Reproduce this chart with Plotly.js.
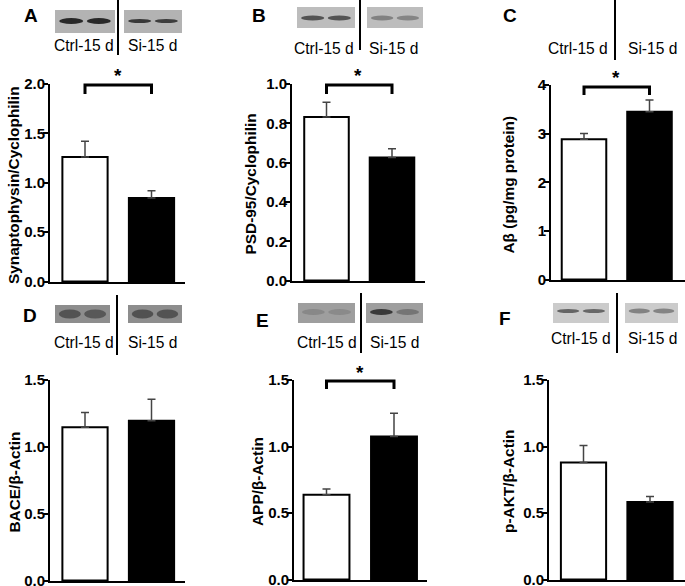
<!DOCTYPE html>
<html><head><meta charset="utf-8">
<script src="https://cdn.plot.ly/plotly-3.0.1.min.js"></script>
<style>html,body{margin:0;padding:0;background:#fff}#chart{width:685px;height:586px}</style>
</head><body><div id="chart"></div>
<script>
// ---- data ----
const groups = ['Ctrl-15 d', 'Si-15 d'];
const synaptophysin = [1.26, 0.845];
const synaptophysinSEM = [0.16, 0.074];
const psd95 = [0.832, 0.626];
const psd95SEM = [0.075, 0.045];
const abeta = [2.885, 3.45];
const abetaSEM = [0.12, 0.24];
const bace = [1.147, 1.196];
const baceSEM = [0.11, 0.16];
const app = [0.637, 1.075];
const appSEM = [0.043, 0.175];
const pakt = [0.88, 0.583];
const paktSEM = [0.127, 0.042];
const yTitles = ['Synaptophysin/Cyclophilin', 'PSD-95/Cyclophilin', 'Aβ (pg/mg protein)', 'BACE/β-Actin', 'APP/β-Actin', 'p-AKT/β-Actin'];
const panelLetters = ['A', 'B', 'C', 'D', 'E', 'F'];
const yMax = [2.0, 1.0, 4, 1.5, 1.5, 1.5];
const yStep = [0.5, 0.2, 1, 0.5, 0.5, 0.5];
const significant = [true, true, true, false, true, false];

const series = [
  [synaptophysin, synaptophysinSEM], [psd95, psd95SEM], [abeta, abetaSEM],
  [bace, baceSEM], [app, appSEM], [pakt, paktSEM]
];

// ---- layout geometry (pixels) ----
const W = 685, H = 586;
const px = x => x / W, py = y => 1 - y / H;
const geom = [
  {L:50,  R:185, T:84,  B:282, cw:85,    cb:151.5, tx:14,  lx:31,  ly:15,  div:[118,0,55],   lab:[[84,45],[152,45]],   star:[118,72],  br:[85,94]},
  {L:292, R:425, T:84,  B:281, cw:326.5, cb:392,   tx:250, lx:259, ly:15,  div:[360,0,50],   lab:[[324,48],[393,48]],  star:[358,72],  br:[85,94]},
  {L:551, R:685, T:85,  B:280, cw:584,   cb:649.5, tx:508, lx:510, ly:15,  div:[615,0,60],   lab:[[578,48],[652,48]],  star:[616,73],  br:[87,95]},
  {L:50,  R:185, T:380, B:581, cw:85,    cb:151.5, tx:14,  lx:30,  ly:315, div:[117,295,355],lab:[[84,342],[152,342]], star:null,      br:null},
  {L:294, R:427, T:380, B:580, cw:326.5, cb:394,   tx:257, lx:262, ly:320, div:[361,293,353],lab:[[327,342],[394,342]],star:[360,368], br:[381,389]},
  {L:549, R:685, T:380, B:580, cw:583.5, cb:650,   tx:508, lx:505, ly:318, div:[617,293,353],lab:[[581,339],[652,339]],star:null,      br:null}
];
// western blot decorations
const blots = [
  {rects:[[55,115],[124,182]], y:[10,33], bg:'#b3b3b3', bands:[['#181818',6],['#181818',6],['#2a2a2a',4],['#303030',4]], by:21},
  {rects:[[297,355],[367,423]], y:[7,28], bg:'#bdbdbd', bands:[['#474747',5],['#474747',5],['#7a7a7a',5],['#7e7e7e',5]], by:18},
  null,
  {rects:[[55,110],[128,182]], y:[305,323], bg:'#8d8d8d', bands:[['#4c4c4c',9],['#525252',9],['#4a4a4a',9],['#4c4c4c',9]], by:314},
  {rects:[[298,355],[366,423]], y:[303,323], bg:'#9e9e9e', bands:[['#858585',6],['#878787',6],['#2e2e2e',6],['#707070',6]], by:312},
  {rects:[[553,609],[625,678]], y:[303,323], bg:'#cbcbcb', bands:[['#5a5a5a',4],['#5c5c5c',4],['#7a7a7a',5],['#7c7c7c',5]], by:311}
];

const font = 'Liberation Sans, Arial, sans-serif';
const traces = [];
const layout = {
  width: W, height: H, margin:{l:0,r:0,t:0,b:0},
  paper_bgcolor:'#fff', plot_bgcolor:'rgba(0,0,0,0)',
  showlegend:false, font:{family:font, color:'#000'},
  shapes:[], annotations:[]
};

series.forEach((s, i) => {
  const g = geom[i];
  const n = i + 1;
  const xa = 'xaxis' + (n === 1 ? '' : n), ya = 'yaxis' + (n === 1 ? '' : n);
  const xr = 'x' + (n === 1 ? '' : n), yr = 'y' + (n === 1 ? '' : n);
  const unit = g.cb - g.cw;
  traces.push({
    type:'bar', x: groups, y: s[0], xaxis: xr, yaxis: yr,
    width: 0.68,
    marker:{color:['#ffffff','#000000'], line:{color:'#000', width:2}},
    error_y:{type:'data', symmetric:false, array:s[1], arrayminus:[0,0], color:'#444', thickness:1.5, width:4}
  });
  layout[xa] = {
    domain:[px(g.L), px(g.R)], anchor: yr, type:'category',
    range:[(g.L - g.cw) / unit, (g.R - g.cw) / unit],
    showline:true, linewidth:2, linecolor:'#000', ticks:'', showticklabels:false,
    showgrid:false, zeroline:false, fixedrange:true
  };
  layout[ya] = {
    domain:[py(g.B), py(g.T)], anchor: xr, range:[-yMax[i] * 0.002, yMax[i]],
    tickmode:'linear', dtick: yStep[i], tick0:0,
    tickformat: yStep[i] >= 1 ? 'd' : '.1f',
    showline:true, linewidth:2, linecolor:'#000', ticks:'outside', ticklen:5, tickwidth:2, tickcolor:'#000',
    tickfont:{family:font, size:15, color:'#000', weight:'bold'}, ticklabeloverflow:'allow',
    ticklabelstandoff:-5,
    showgrid:false, zeroline:false, fixedrange:true
  };
  layout.annotations.push({xref:'paper', yref:'paper', x:px(g.tx), y:py((g.T + g.B) / 2 + 2),
    text:'<b>' + yTitles[i] + '</b>', textangle:-90, showarrow:false, xanchor:'center', yanchor:'middle',
    font:{family:font, size:15.4, color:'#000'}});
  layout.annotations.push({xref:'paper', yref:'paper', x:px(g.lx), y:py(g.ly),
    text:'<b>' + panelLetters[i] + '</b>', showarrow:false, xanchor:'center', yanchor:'middle',
    font:{family:font, size:19, color:'#000'}});
  g.lab.forEach((p, k) => layout.annotations.push({xref:'paper', yref:'paper', x:px(p[0]), y:py(p[1]),
    text: groups[k], showarrow:false, xanchor:'center', yanchor:'middle',
    font:{family:font, size:15.6, color:'#000'}}));
  layout.shapes.push({type:'line', xref:'paper', yref:'paper', x0:px(g.div[0]), x1:px(g.div[0]),
    y0:py(g.div[1]), y1:py(g.div[2]), line:{color:'#000', width:2}});
  const b = blots[i];
  if (b) {
    b.rects.forEach((r, k) => {
      layout.shapes.push({type:'rect', xref:'paper', yref:'paper', x0:px(r[0]), x1:px(r[1]),
        y0:py(b.y[1]), y1:py(b.y[0]), fillcolor:b.bg, line:{width:0}, layer:'above'});
      const w = r[1] - r[0];
      [0, 1].forEach(j => {
        const band = b.bands[k * 2 + j];
        const cx = r[0] + w * (0.27 + 0.46 * j);
        layout.shapes.push({type:'circle', xref:'paper', yref:'paper',
          x0:px(cx - w * 0.2), x1:px(cx + w * 0.2),
          y0:py(b.by + band[1] / 2), y1:py(b.by - band[1] / 2),
          fillcolor:band[0], line:{width:0}, opacity:0.9, layer:'above'});
      });
    });
  }
  if (significant[i]) {
    layout.shapes.push({type:'path', xref:xr, yref:'paper',
      path:'M0,' + py(g.br[1]) + ' L0,' + py(g.br[0]) + ' L1,' + py(g.br[0]) + ' L1,' + py(g.br[1]),
      line:{color:'#000', width:3}});
    layout.annotations.push({xref:'paper', yref:'paper', x:px(g.star[0]), y:py(g.star[1] + 4),
      text:'<b>*</b>', showarrow:false, xanchor:'center', yanchor:'middle',
      font:{family:font, size:19, color:'#000'}});
  }
});

Plotly.newPlot('chart', traces, layout, {staticPlot:true, displayModeBar:false});
</script></body></html>
